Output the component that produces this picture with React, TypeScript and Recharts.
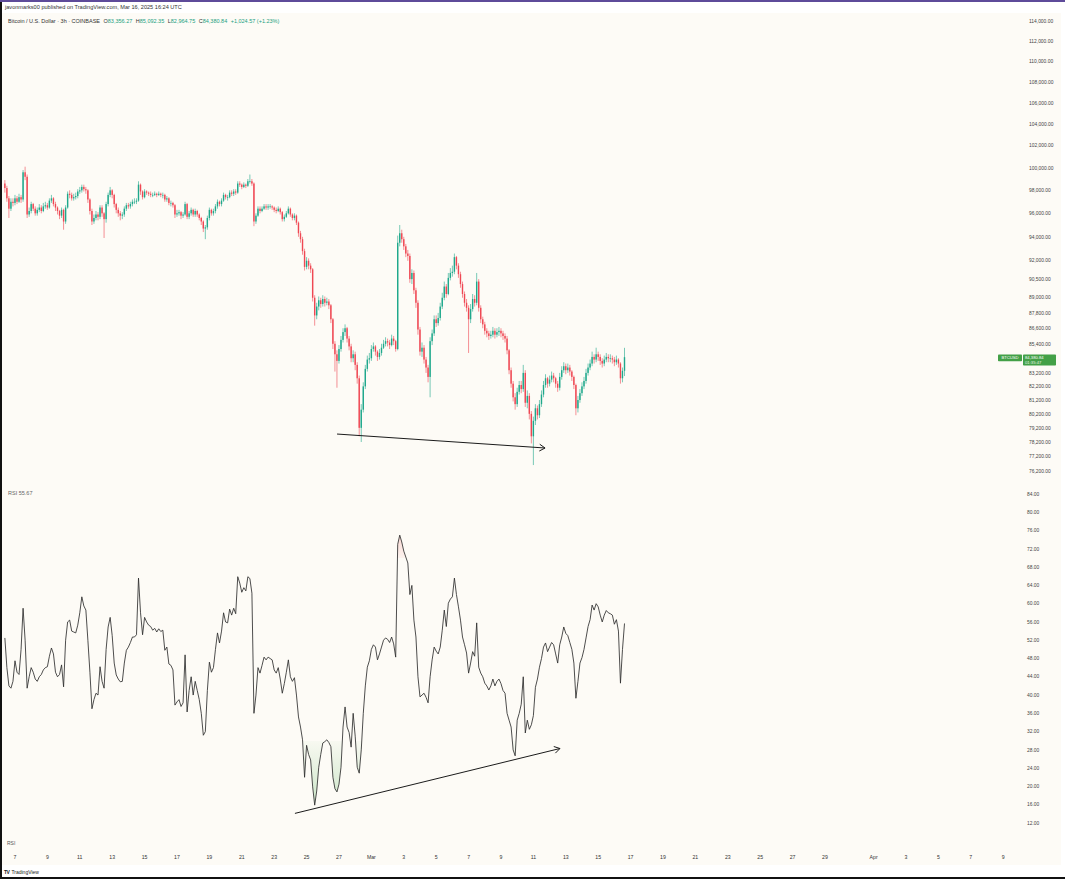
import React from 'react';
import { ComposedChart, Bar, Line, Area, XAxis, YAxis, ReferenceLine } from 'recharts';

// ---------------- data (BTC/USD, 3h candles, values in thousands of USD) ----------------
const firstOpenK = 98.6;
const closeK = [
  98.2, 97.3, 96.4, 97.0, 96.9, 97.3, 97.0, 97.4, 97.2, 99.6,
  99.2, 95.9, 96.2, 96.8, 96.4, 96.0, 96.3, 96.5, 96.2, 96.6,
  96.7, 96.5, 97.1, 97.3, 96.8, 96.5, 96.2, 95.8, 96.3, 95.3,
  96.5, 97.7, 97.6, 97.3, 97.4, 97.5, 97.9, 98.0, 98.3, 98.1,
  98.0, 97.2, 96.2, 95.3, 95.6, 95.9, 95.7, 96.5, 96.0, 95.5,
  96.8, 97.6, 98.0, 97.6, 96.8, 96.3, 96.0, 95.8, 95.9, 96.4,
  96.7, 96.6, 96.8, 97.0, 97.0, 97.1, 98.5, 97.9, 97.4, 97.9,
  97.8, 97.7, 97.6, 97.6, 97.7, 97.6, 97.7, 97.6, 97.6, 97.2,
  97.3, 96.9, 96.9, 96.7, 95.9, 96.0, 96.1, 95.8, 95.9, 96.8,
  95.7, 96.0, 96.3, 95.9, 96.2, 95.9, 95.6, 95.3, 94.7, 94.8,
  95.6, 96.3, 96.0, 96.2, 96.6, 97.0, 96.8, 97.1, 97.6, 97.4,
  97.4, 97.8, 97.7, 97.9, 97.8, 98.6, 98.5, 98.3, 98.5, 98.4,
  98.8, 98.8, 98.6, 95.3, 95.8, 96.4, 96.2, 96.4, 96.6, 96.5,
  96.6, 96.6, 96.5, 96.3, 96.2, 96.4, 96.1, 95.5, 95.7, 96.0,
  96.4, 95.9, 95.6, 95.8, 95.2, 94.3, 93.8, 92.8, 91.5, 92.0,
  91.6, 91.3, 89.0, 87.6, 88.3, 88.8, 88.5, 88.9, 88.6, 88.7,
  88.4, 87.3, 85.4, 84.6, 84.1, 85.0, 85.7, 86.3, 86.6, 85.8,
  85.2, 84.3, 84.6, 83.8, 82.8, 79.2, 80.5, 82.2, 83.5, 84.2,
  84.3, 85.0, 85.2, 84.8, 84.4, 84.7, 85.1, 85.4, 85.6, 85.5,
  85.3, 85.8, 85.6, 85.0, 93.5, 94.3, 93.8, 93.2, 92.6, 92.4,
  90.5, 91.0, 89.6, 88.6, 86.5, 84.8, 85.1, 84.2, 83.6, 82.9,
  85.6, 86.2, 87.3, 87.0, 87.4, 88.3, 89.0, 89.9, 89.3, 90.6,
  91.0, 91.1, 92.3, 91.6, 90.9, 90.1, 89.3, 88.6, 88.2, 87.3,
  88.1, 88.9, 88.6, 90.3, 88.2, 87.3, 86.9, 86.4, 86.2, 86.0,
  86.1, 86.4, 86.1, 86.3, 86.4, 86.2, 86.0, 85.8, 84.9, 83.4,
  82.4, 81.4, 80.9, 81.8, 82.3, 82.0, 83.2, 81.0, 81.5, 80.2,
  78.6, 79.7, 80.6, 80.1, 80.9, 81.6, 82.3, 82.8, 82.4, 82.7,
  83.0, 82.8, 82.4, 82.1, 82.9, 83.4, 83.7, 83.4, 83.6, 83.3,
  82.9, 82.3, 80.6, 81.2, 81.7, 82.2, 82.6, 83.2, 83.6, 83.9,
  84.4, 84.2, 84.6, 84.4, 84.1, 83.9, 84.2, 84.4, 84.3, 84.3,
  84.2, 84.0, 84.2, 83.9, 82.8, 83.35627, 84.38084,
];
const highK = [
  98.9, 98.4, 97.5, 97.3, 97.3, 97.6, 97.5, 97.7, 97.6, 99.8,
  100.1, 99.4, 96.5, 97.0, 96.9, 96.6, 96.5, 96.8, 96.7, 96.9,
  97.0, 96.9, 97.3, 97.6, 97.4, 97.0, 96.6, 96.3, 96.5, 96.4,
  96.7, 97.9, 98.0, 97.8, 97.7, 97.8, 98.1, 98.3, 98.5, 98.5,
  98.3, 98.1, 97.3, 96.4, 95.9, 96.2, 96.1, 96.7, 96.7, 96.1,
  97.0, 97.8, 98.3, 98.1, 97.7, 96.9, 96.5, 96.2, 96.1, 96.6,
  96.9, 96.9, 97.0, 97.2, 97.3, 97.3, 98.8, 98.6, 98.0, 98.1,
  98.0, 97.9, 97.9, 97.8, 97.9, 97.8, 97.9, 97.8, 97.8, 97.7,
  97.5, 97.4, 97.1, 97.0, 96.8, 96.3, 96.3, 96.2, 96.1, 97.0,
  96.9, 96.2, 96.5, 96.4, 96.4, 96.3, 96.0, 95.7, 95.4, 95.0,
  95.8, 96.5, 96.4, 96.4, 96.8, 97.2, 97.1, 97.3, 97.8, 97.7,
  97.6, 98.0, 98.0, 98.1, 98.1, 98.8, 98.8, 98.6, 98.7, 98.6,
  99.0, 99.4, 99.0, 98.7, 96.0, 96.6, 96.6, 96.6, 96.8, 96.8,
  96.8, 96.8, 96.7, 96.6, 96.5, 96.6, 96.5, 96.2, 95.9, 96.2,
  96.6, 96.5, 96.0, 96.0, 95.9, 95.3, 94.5, 94.0, 93.0, 92.3,
  92.2, 91.8, 91.4, 89.2, 88.6, 89.1, 89.0, 89.2, 89.1, 89.0,
  88.9, 88.5, 87.4, 85.6, 84.9, 85.3, 86.0, 86.6, 86.9, 86.7,
  86.0, 85.4, 84.9, 84.8, 84.0, 83.0, 80.9, 82.5, 83.8, 84.5,
  84.7, 85.3, 85.5, 85.3, 84.9, 85.0, 85.4, 85.7, 85.9, 85.8,
  85.7, 86.1, 86.0, 85.7, 94.1, 95.0, 94.6, 94.0, 93.4, 92.9,
  92.6, 91.3, 91.2, 89.8, 88.8, 86.7, 85.5, 85.3, 84.4, 83.8,
  85.9, 86.5, 87.6, 87.6, 87.8, 88.6, 89.4, 90.3, 90.1, 91.0,
  91.4, 91.6, 92.6, 92.4, 91.8, 91.1, 90.3, 89.5, 88.9, 88.4,
  88.5, 89.3, 89.2, 91.0, 90.5, 88.4, 87.5, 87.1, 86.6, 86.4,
  86.4, 86.7, 86.6, 86.6, 86.7, 86.6, 86.4, 86.2, 86.0, 85.0,
  83.6, 82.6, 81.7, 82.1, 82.6, 82.6, 83.8, 83.4, 81.9, 81.7,
  80.4, 80.0, 80.9, 80.8, 81.2, 81.9, 82.6, 83.1, 82.9, 83.0,
  83.3, 83.2, 82.9, 82.6, 83.2, 83.7, 84.0, 83.9, 83.9, 83.8,
  83.4, 83.0, 82.4, 81.5, 82.0, 82.5, 82.9, 83.5, 83.9, 84.2,
  84.8, 84.6, 85.1, 84.8, 84.6, 84.3, 84.5, 84.7, 84.6, 84.6,
  84.5, 84.4, 84.5, 84.3, 84.0, 83.6, 85.09235,
];
const lowK = [
  97.8, 97.0, 95.6, 96.2, 96.6, 96.7, 96.8, 96.9, 96.9, 97.0,
  98.9, 95.6, 95.7, 96.0, 96.2, 95.8, 95.8, 96.1, 96.0, 96.1,
  96.4, 96.3, 96.4, 96.9, 96.6, 96.2, 95.9, 95.5, 95.6, 94.6,
  95.1, 96.4, 97.3, 97.1, 97.1, 97.2, 97.3, 97.7, 97.8, 97.9,
  97.7, 96.9, 95.9, 95.0, 95.1, 95.4, 95.4, 95.5, 95.7, 93.9,
  95.2, 96.6, 97.4, 97.3, 96.5, 96.0, 95.7, 95.4, 95.5, 95.7,
  96.2, 96.4, 96.4, 96.6, 96.8, 96.8, 97.0, 97.6, 97.2, 97.3,
  97.6, 97.5, 97.4, 97.4, 97.5, 97.4, 97.5, 97.4, 97.3, 97.0,
  97.0, 96.7, 96.6, 96.5, 95.6, 95.7, 95.8, 95.5, 95.6, 95.8,
  95.5, 95.5, 95.8, 95.7, 95.7, 95.7, 95.4, 95.0, 94.4, 93.8,
  94.6, 95.4, 95.8, 95.8, 96.0, 96.4, 96.6, 96.6, 97.0, 97.2,
  97.1, 97.3, 97.5, 97.5, 97.6, 97.7, 98.3, 98.1, 98.2, 98.2,
  98.3, 98.6, 98.4, 94.9, 95.1, 95.7, 96.0, 96.1, 96.3, 96.3,
  96.3, 96.4, 96.3, 96.1, 96.0, 96.1, 95.9, 95.3, 95.3, 95.6,
  95.9, 95.7, 95.4, 95.4, 95.0, 94.0, 93.5, 92.5, 91.2, 91.3,
  91.3, 91.0, 88.7, 86.8, 87.3, 88.0, 88.2, 88.3, 88.3, 88.4,
  88.1, 87.0, 85.0, 83.3, 82.1, 83.9, 84.8, 85.5, 86.0, 85.5,
  84.9, 84.0, 84.0, 83.4, 82.4, 78.6, 78.2, 80.3, 82.0, 83.3,
  83.9, 84.1, 84.8, 84.5, 84.1, 84.2, 84.5, 85.0, 85.2, 85.2,
  85.0, 85.2, 85.3, 84.8, 84.9, 93.2, 93.5, 92.9, 92.3, 92.0,
  90.2, 90.1, 89.3, 88.2, 86.1, 84.5, 84.4, 83.9, 83.2, 82.5,
  81.4, 85.3, 86.0, 86.7, 86.8, 87.2, 88.1, 88.8, 89.0, 89.2,
  90.4, 90.7, 90.9, 91.3, 90.6, 89.8, 89.0, 88.3, 87.9, 84.7,
  87.0, 87.9, 88.3, 88.4, 87.9, 87.0, 86.6, 86.1, 85.9, 85.7,
  85.8, 85.9, 85.8, 85.9, 86.0, 85.9, 85.7, 85.5, 84.6, 83.1,
  82.1, 81.1, 80.5, 80.7, 81.6, 81.7, 81.8, 80.7, 80.6, 79.8,
  78.1, 76.6, 79.4, 79.8, 79.9, 80.7, 81.4, 82.1, 82.1, 82.2,
  82.5, 82.5, 82.1, 81.8, 81.9, 82.7, 83.2, 83.1, 83.2, 83.0,
  82.6, 82.0, 80.1, 80.3, 81.0, 81.5, 82.0, 82.4, 83.0, 83.4,
  83.7, 83.9, 84.0, 84.1, 83.8, 83.6, 83.7, 84.0, 84.0, 84.0,
  83.9, 83.7, 83.8, 83.6, 82.4, 82.5, 82.96475,
];
const rsiValues = [
  52.5, 46, 42, 41.5, 43, 47.5, 45, 44.5, 50, 59,
  52, 41.5, 44, 46, 45, 43.5, 43, 44, 44.5, 45.5,
  46, 46.2, 48.5, 50.3, 49, 45, 44, 44.5, 46.6, 41.8,
  52, 56, 56.4, 54, 53.8, 53.6, 55.3, 58, 61.5, 59.5,
  58.6, 52, 45, 37, 39, 40.4, 40, 46.2, 43, 41.5,
  50, 54.9, 57, 53, 47, 44.4, 43.5, 42.9, 43, 47,
  49.8, 50.5, 51.5, 52.7, 52.7, 53.2, 65.6, 58, 53.2, 57,
  56, 55.3, 55, 54.2, 54.6, 53.8, 54.5, 53.9, 54.2, 49.8,
  50.5, 46.8, 46.5, 45.5, 37.8, 38.5, 39, 37.5, 38.3, 48.8,
  36.3, 41, 44, 40, 43, 41, 39, 36, 31.2, 32,
  41, 47.2, 45, 46, 50, 53.6, 51.4, 54, 58, 56,
  55.8, 58.8, 57.5, 59, 57.8, 65.9, 64.5, 62.5, 63.5, 62.8,
  65.9, 65.5, 62.3, 36, 40, 46, 44.8, 46.5, 48.3, 47.7,
  48.3, 48, 47.7, 45.5, 44.8, 46, 43.5, 40.4, 42.5, 45,
  47.7, 44, 43, 43.8, 40, 35.2, 33, 30.2, 22, 29,
  27, 25.8, 19.9, 15.9, 19, 24.2, 27, 29.5, 29.8, 30.2,
  29.6, 28.7, 22, 19.5, 18.8, 20.5, 24.2, 33, 37.4, 33,
  31.8, 28.6, 36, 31, 24.2, 22.9, 28, 36, 42, 46.1,
  47.5, 50, 51, 50.5, 47.7, 49, 50.5, 52, 52.5, 52.2,
  51.5, 52.7, 51.2, 48.3, 73, 75, 73.5, 71.5, 70.2, 68.9,
  62, 64, 56.4, 52.7, 44, 39.6, 40, 40.4, 39.5, 38.3,
  44, 47.7, 50.5, 49.6, 49, 50.5, 54.2, 58.6, 55, 60.1,
  61, 61.5, 65.6, 62, 59.3, 56.4, 52.7, 51, 49.2, 44.8,
  47, 49.5, 48.5, 55.8, 46.1, 44.8, 44, 42.6, 42, 41.1,
  42, 43.5, 42, 43, 43.5, 42.5, 41, 40.4, 36, 34.5,
  33, 28, 26.7, 34.5, 36, 38, 44, 31.7, 34.5, 32.5,
  33.5, 35.5, 41.7, 43.5, 46.1, 48, 50.5, 51.4, 49.5, 50.5,
  51.5, 51, 49, 47, 51, 52.7, 54.9, 53.5, 53, 51.5,
  50, 47, 39.3, 43, 47, 48.2, 50, 52.5, 55, 56.5,
  59.7, 58.6, 60, 59.3, 57.5, 56, 57.5, 58.5, 58, 57.8,
  57.5, 55.5, 56.5, 54, 42.6, 50, 55.67,
];
// first candle: Feb 6 09:00 UTC; time measured in days from Feb 7 00:00 UTC
const firstCandleDay = -0.625;
const candleStepDay = 0.125;

const priceTicks = [114000, 112000, 110000, 108000, 106000, 104000, 102000, 100000, 98000, 96000, 94000, 92000, 90500, 89000, 87800, 86600, 85400, 83200, 82200, 81200, 80200, 79200, 78200, 77200, 76200];
const rsiTicks = [84, 80, 76, 72, 68, 64, 60, 56, 52, 48, 44, 40, 36, 32, 28, 24, 20, 16, 12];
const xTickDays = [0, 2, 4, 6, 8, 10, 12, 14, 16, 18, 20, 22, 24, 26, 28, 30, 32, 34, 36, 38, 40, 42, 44, 46, 48, 50, 53, 55, 57, 59, 61];
const xTickLabels = ['7', '9', '11', '13', '15', '17', '19', '21', '23', '25', '27', 'Mar', '3', '5', '7', '9', '11', '13', '15', '17', '19', '21', '23', '25', '27', '29', 'Apr', '3', '5', '7', '9'];

const priceArrowDays = [19.88, 32.72];
const priceArrowValues = [78760, 77780];
const rsiArrowDays = [17.28, 33.64];
const rsiArrowValues = [14.1, 28.3];

const headerLine1 = 'javonmarks00 published on TradingView.com, Mar 16, 2025 16:24 UTC';
const symbolTitle = 'Bitcoin / U.S. Dollar · 3h · COINBASE';
const ohlcLabels = ['O', 'H', 'L', 'C'];
const ohlcValues = ['83,356.27', '85,092.35', '82,964.75', '84,380.84'];
const changeText = '+1,024.57 (+1.23%)';
const rsiTitle = 'RSI';
const rsiLast = '55.67';
const countdown = '01:35:47';

// ---------------- layout / style ----------------
const W = 1065;
const H = 879;
const BG = '#fdfbf6';
const FONT = '"Liberation Sans", Arial, sans-serif';
const UP = '#1fa88c';
const DOWN = '#ef4753';
const AXIS_TEXT = '#444';
const PX_PER_DAY = 16.2;
const LEFT_DAY = -0.74;
const CHART_W = 1058;
const SCALE_W = 64;
const PANE_W = CHART_W - SCALE_W;
const paneDomain: [number, number] = [LEFT_DAY, LEFT_DAY + PANE_W / PX_PER_DAY];
const timeDomain: [number, number] = [LEFT_DAY, LEFT_DAY + CHART_W / PX_PER_DAY];
const priceDomain: [number, number] = [75580, 114790];
const rsiDomain: [number, number] = [9.37, 86.63];

const candles = closeK.map((c, i) => {
  const open = (i === 0 ? firstOpenK : closeK[i - 1]) * 1000;
  const close = c * 1000;
  const high = highK[i] * 1000;
  const low = lowK[i] * 1000;
  return { t: firstCandleDay + i * candleStepDay, open, close, high, low, range: [low, high], rsi: rsiValues[i] };
});
const lastClose = candles[candles.length - 1].close;

const rsiMax = Math.max(...rsiValues, 30);
const rsiMin = Math.min(...rsiValues, 30);
const off70 = (rsiMax - 70) / (rsiMax - rsiMin);
const off30 = (rsiMax - 30) / (rsiMax - rsiMin);

const fmtPrice = (v: number) => v.toLocaleString('en-US', { minimumFractionDigits: 2, maximumFractionDigits: 2 });

const Candle = (props: any) => {
  const { x, y, width, height, payload } = props;
  if (!payload || !Number.isFinite(y) || !Number.isFinite(height)) return null;
  const { open, close, high, low } = payload;
  const top = Math.min(y, y + height);
  const span = Math.abs(height);
  const lh = Math.log(high);
  const ll = Math.log(low);
  const den = lh - ll || 1;
  const yAt = (v: number) => top + (span * (lh - Math.log(v))) / den;
  const cx = x + width / 2;
  const color = close >= open ? UP : DOWN;
  const yo = yAt(open);
  const yc = yAt(close);
  const bt = Math.min(yo, yc);
  const bh = Math.max(Math.abs(yo - yc), 0.7);
  return (
    <g>
      <line x1={cx} x2={cx} y1={top} y2={top + span} stroke={color} strokeWidth={0.6} />
      <rect x={cx - 0.7} y={bt} width={1.4} height={bh} fill={color} />
    </g>
  );
};

const ArrowLine = (props: any) => {
  const x1 = Number(props.x1);
  const y1 = Number(props.y1);
  const x2 = Number(props.x2);
  const y2 = Number(props.y2);
  if (![x1, y1, x2, y2].every(Number.isFinite)) return null;
  const ang = Math.atan2(y2 - y1, x2 - x1);
  const len = 6.5;
  const spread = 0.55;
  const ax = x2 - len * Math.cos(ang - spread);
  const ay = y2 - len * Math.sin(ang - spread);
  const bx = x2 - len * Math.cos(ang + spread);
  const by = y2 - len * Math.sin(ang + spread);
  return (
    <g>
      <line x1={x1} y1={y1} x2={x2} y2={y2} stroke="#1b1b1b" strokeWidth={1} />
      <polyline points={`${ax},${ay} ${x2},${y2} ${bx},${by}`} fill="none" stroke="#1b1b1b" strokeWidth={1} />
    </g>
  );
};

const PriceTick = (props: any) => {
  const { x, y, payload } = props;
  return (
    <text x={x} y={y} dy="0.35em" textAnchor="start" fontSize={4.9} fill={AXIS_TEXT} fontFamily={FONT}>
      {fmtPrice(payload.value)}
    </text>
  );
};

const RsiTick = (props: any) => {
  const { x, y, payload } = props;
  return (
    <text x={x} y={y} dy="0.35em" textAnchor="start" fontSize={4.9} fill={AXIS_TEXT} fontFamily={FONT}>
      {Number(payload.value).toFixed(2)}
    </text>
  );
};

const TimeTick = (props: any) => {
  const { x, y, payload } = props;
  const idx = xTickDays.indexOf(payload.value);
  return (
    <text x={x} y={y} dy="0.35em" textAnchor="middle" fontSize={5.2} fill="#333" fontFamily={FONT}>
      {idx >= 0 ? xTickLabels[idx] : ''}
    </text>
  );
};

const PriceTag = (props: any) => {
  const vb = props.viewBox || {};
  const right = (vb.x ?? 0) + (vb.width ?? 0);
  const py = vb.y ?? 0;
  if (!Number.isFinite(right) || !Number.isFinite(py)) return null;
  return (
    <g fontFamily={FONT}>
      <rect x={right + 1} y={py - 2.6} width={24} height={6.6} rx={0.8} fill="#43a047" />
      <text x={right + 13} y={py + 0.7} dy="0.35em" textAnchor="middle" fontSize={4.2} fill="#fff">BTCUSD</text>
      <rect x={right + 26} y={py - 2.6} width={33} height={11} rx={0.8} fill="#43a047" />
      <text x={right + 28} y={py + 0.7} dy="0.35em" textAnchor="start" fontSize={4.2} fill="#fff">{fmtPrice(lastClose)}</text>
      <text x={right + 28} y={py + 5.3} dy="0.35em" textAnchor="start" fontSize={4.2} fill="#e8f5e9">{countdown}</text>
    </g>
  );
};

export default function App() {
  return (
    <div style={{ position: 'absolute', left: 0, top: 0, width: W, height: H, background: '#ffffff', overflow: 'hidden', fontFamily: FONT }}>
      <div style={{ position: 'absolute', left: 2, top: 13, width: 1059, height: 852, background: BG }} />

      {/* price pane */}
      <div style={{ position: 'absolute', left: 3, top: 14 }}>
        <ComposedChart width={CHART_W} height={466} data={candles} margin={{ top: 0, right: 0, bottom: 0, left: 0 }}>
          <XAxis dataKey="t" type="number" domain={paneDomain} allowDataOverflow hide />
          <YAxis
            orientation="right"
            type="number"
            scale="log"
            domain={priceDomain}
            allowDataOverflow
            ticks={priceTicks}
            interval={0}
            width={SCALE_W}
            axisLine={false}
            tickLine={false}
            tickSize={0}
            tickMargin={32}
            tick={<PriceTick />}
          />
          <Bar dataKey="range" barSize={2} isAnimationActive={false} shape={(p: any) => <Candle {...p} />} />
          <ReferenceLine
            segment={[
              { x: priceArrowDays[0], y: priceArrowValues[0] },
              { x: priceArrowDays[1], y: priceArrowValues[1] },
            ]}
            ifOverflow="visible"
            stroke="#1b1b1b"
            shape={(p: any) => <ArrowLine {...p} />}
          />
          <ReferenceLine y={lastClose} stroke="none" strokeWidth={0} ifOverflow="visible" label={(p: any) => <PriceTag {...p} />} />
        </ComposedChart>
      </div>

      {/* RSI pane */}
      <div style={{ position: 'absolute', left: 3, top: 482 }}>
        <ComposedChart width={CHART_W} height={353} data={candles} margin={{ top: 0, right: 0, bottom: 0, left: 0 }}>
          <defs>
            <linearGradient id="rsiZones" x1="0" y1="0" x2="0" y2="1">
              <stop offset={0} stopColor="#ef5350" stopOpacity={0.35} />
              <stop offset={off70} stopColor="#ef5350" stopOpacity={0.08} />
              <stop offset={off70} stopColor="#ffffff" stopOpacity={0} />
              <stop offset={off30} stopColor="#4caf50" stopOpacity={0} />
              <stop offset={off30} stopColor="#4caf50" stopOpacity={0.05} />
              <stop offset={1} stopColor="#4caf50" stopOpacity={0.45} />
            </linearGradient>
          </defs>
          <XAxis dataKey="t" type="number" domain={paneDomain} allowDataOverflow hide />
          <YAxis
            orientation="right"
            type="number"
            domain={rsiDomain}
            allowDataOverflow
            ticks={rsiTicks}
            interval={0}
            width={SCALE_W}
            axisLine={false}
            tickLine={false}
            tickSize={0}
            tickMargin={30}
            tick={<RsiTick />}
          />
          <Area dataKey="rsi" type="linear" baseValue={30} stroke="none" fill="url(#rsiZones)" isAnimationActive={false} />
          <Line dataKey="rsi" type="linear" dot={false} stroke="#2e2e2e" strokeWidth={0.85} isAnimationActive={false} />
          <ReferenceLine
            segment={[
              { x: rsiArrowDays[0], y: rsiArrowValues[0] },
              { x: rsiArrowDays[1], y: rsiArrowValues[1] },
            ]}
            ifOverflow="visible"
            stroke="#1b1b1b"
            shape={(p: any) => <ArrowLine {...p} />}
          />
        </ComposedChart>
      </div>

      {/* time axis */}
      <div style={{ position: 'absolute', left: 3, top: 840 }}>
        <ComposedChart width={CHART_W} height={26} data={candles} margin={{ top: 0, right: 0, bottom: 0, left: 0 }}>
          <XAxis
            dataKey="t"
            type="number"
            domain={timeDomain}
            allowDataOverflow
            ticks={xTickDays}
            interval={0}
            height={14}
            axisLine={false}
            tickLine={false}
            tickSize={0}
            tickMargin={5}
            tick={<TimeTick />}
          />
          <YAxis hide domain={[0, 100]} />
          <Line dataKey="rsi" stroke="none" dot={false} isAnimationActive={false} />
        </ComposedChart>
      </div>

      {/* header / legends */}
      <div style={{ position: 'absolute', left: 5, top: 4, fontSize: 5.6, color: '#333', whiteSpace: 'nowrap', lineHeight: '7px' }}>{headerLine1}</div>
      <div style={{ position: 'absolute', left: 8, top: 17.5, fontSize: 5.5, color: '#333', whiteSpace: 'nowrap', lineHeight: '7px' }}>
        <span>{symbolTitle}</span>
        {ohlcLabels.map((l, i) => (
          <span key={l} style={{ marginLeft: 3.5 }}>
            {l}
            <span style={{ color: '#22a07f' }}>{ohlcValues[i]}</span>
          </span>
        ))}
        <span style={{ marginLeft: 3.5, color: '#22a07f' }}>{changeText}</span>
      </div>
      <div style={{ position: 'absolute', left: 8, top: 489.5, fontSize: 5.5, color: '#666', whiteSpace: 'nowrap', lineHeight: '7px' }}>
        {rsiTitle} <span style={{ color: '#666' }}>{rsiLast}</span>
      </div>
      <div style={{ position: 'absolute', left: 7, top: 839.5, fontSize: 5, color: '#555', lineHeight: '7px' }}>{rsiTitle}</div>
      <div style={{ position: 'absolute', left: 4, top: 868.5, fontSize: 5, color: '#222', whiteSpace: 'nowrap', lineHeight: '7px' }}>
        <span style={{ fontWeight: 900, letterSpacing: -0.5 }}>TV</span>
        <span style={{ marginLeft: 2 }}>TradingView</span>
      </div>

      {/* frame */}
      <div style={{ position: 'absolute', left: 0, top: 0, width: W, height: 2, background: '#5e4b9a' }} />
      <div style={{ position: 'absolute', left: 0, top: 2, width: 2, height: H - 2, background: '#111' }} />
      <div style={{ position: 'absolute', left: 0, top: H - 2, width: W, height: 2, background: '#111' }} />
    </div>
  );
}
